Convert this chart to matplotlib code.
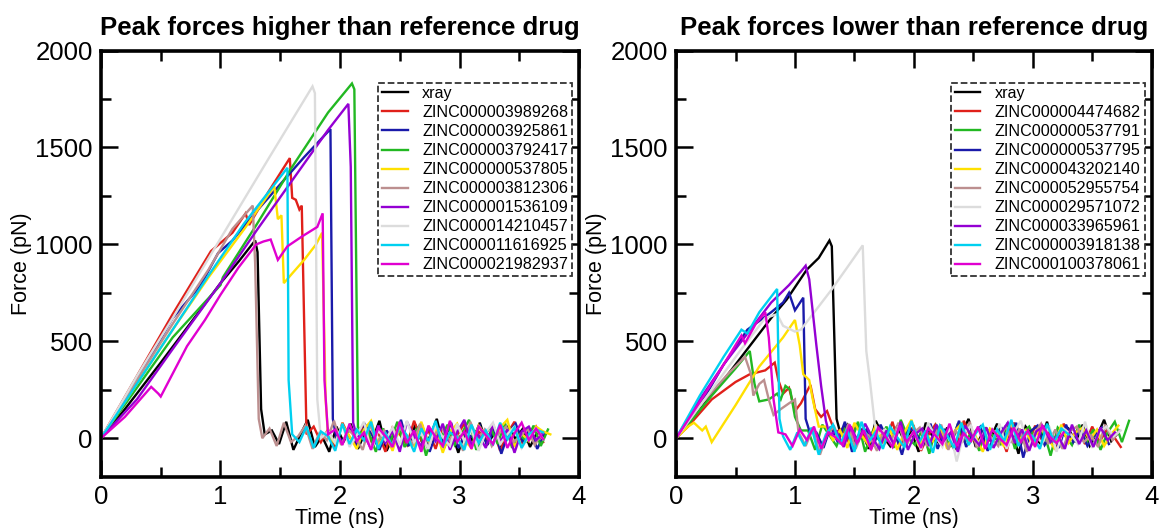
import matplotlib

matplotlib.use("Agg")

import matplotlib.pyplot as plt
from matplotlib.ticker import MultipleLocator

plt.rcParams["font.family"] = ["Liberation Sans", "DejaVu Sans"]

# sampling step (ns) used for the noisy tail after rupture
STEP = 0.06

# ---------------- left panel: peak forces higher than reference ----------------
hi_labels = ["xray", "ZINC000003989268", "ZINC000003925861", "ZINC000003792417",
             "ZINC000000537805", "ZINC000003812306", "ZINC000001536109",
             "ZINC000014210457", "ZINC000011616925", "ZINC000021982937"]
hi_colors = ["#000000", "#e0201a", "#1a1aaa", "#22b822", "#ffe000",
             "#bc8f8f", "#9400d3", "#dcdcdc", "#00d0f0", "#e000d0"]

hi_xray_t = [0, 0.2, 0.5, 0.83, 1.0, 1.15, 1.29, 1.31, 1.34, 1.37]
hi_xray_f = [0, 150, 390, 660, 800, 910, 1020, 960, 150, 20]
hi_xray_noise = [40, -30, 85, -60, 20, 95, -45, 10, -70, 60, -20, 75, -55, 30, -10, 90, -65, 15, 55, -40,
                 70, -25, 5, 100, -50, 35, -75, 45, -15, 80, -35, 25, -60, 65, -5, 50, -45, 30, 10]

hi_red_t = [0, 0.3, 0.6, 0.92, 1.1, 1.21, 1.24, 1.4, 1.58, 1.6, 1.63, 1.66, 1.68, 1.7, 1.72]
hi_red_f = [0, 320, 640, 965, 1060, 1160, 1100, 1270, 1445, 1240, 1230, 1180, 1200, 600, 20]
hi_red_noise = [60, -20, 45, -50, 80, 5, -40, 70, -15, 30, -70, 55, 20, -35, 90, -10, 40, -55, 65, -25,
                15, 75, -45, 35, -5, 50, -65, 25, 85, -30, 10, 60, -20]

hi_blue_t = [0, 0.3, 0.6, 0.83, 0.98, 1.1, 1.3, 1.5, 1.7, 1.92, 1.94, 1.97]
hi_blue_f = [0, 300, 620, 785, 955, 1020, 1170, 1310, 1450, 1595, 100, 0]
hi_blue_noise = [-10, 55, -45, 70, 15, -60, 40, -25, 95, -40, 20, 60, -70, 35, -15, 80, -50, 25, 5, 65,
                 -35, 45, -80, 30, 75, -20, 50, -55, 20]

hi_green_t = [0, 0.3, 0.6, 1.0, 1.02, 1.3, 1.6, 1.9, 2.1, 2.12, 2.15, 2.18]
hi_green_f = [0, 260, 520, 790, 830, 1100, 1400, 1680, 1830, 1800, 60, 20]
hi_green_noise = [30, -70, 50, -20, 85, -45, 10, 60, -90, 40, -5, 70, -35, 25, 95, -60, 15, 55, -30, 80,
                  -50, 20, -15, 65, -40, 45]

hi_yellow_t = [0, 0.3, 0.6, 0.9, 1.2, 1.45, 1.48, 1.51, 1.53, 1.6, 1.7, 1.8, 1.85, 1.88, 1.9]
hi_yellow_f = [0, 280, 560, 830, 1080, 1300, 1130, 1150, 800, 850, 920, 1000, 1060, 200, 10]
hi_yellow_noise = [-25, 70, 10, -55, 45, 90, -35, 20, -65, 60, 5, -40, 85, -20, 50, -75, 30, 75, -10, -50,
                   65, 15, -30, 55, 95, -45, 25, -15, 60, 35, 20]

hi_brown_t = [0, 0.3, 0.6, 0.9, 1.1, 1.27, 1.29, 1.32, 1.35]
hi_brown_f = [0, 300, 590, 870, 1080, 1200, 900, 100, 0]
hi_brown_noise = [50, -40, 80, -20, 10, 65, -55, 30, -10, 90, -35, 45, 5, -60, 70, -25, 40, -45, 60, 15,
                  -30, 75, -50, 20, 55, -15, 35, -65, 85, -5, 45, -40, 25, 60, -20, 10, 50, -35, 30]

hi_violet_t = [0, 0.3, 0.6, 1.0, 1.3, 1.6, 1.9, 2.07, 2.09, 2.11, 2.14]
hi_violet_f = [0, 200, 460, 800, 1070, 1330, 1590, 1725, 1400, 80, 10]
hi_violet_noise = [20, -55, 65, -25, 40, -70, 85, 10, -40, 55, -15, 75, -60, 30, 95, -35, 15, -50, 70, -20,
                   45, -75, 35, 60, -10, 25]

hi_grey_t = [0, 0.3, 0.6, 1.0, 1.4, 1.77, 1.79, 1.81, 1.84]
hi_grey_f = [0, 320, 620, 1030, 1440, 1815, 1780, 200, 0]
hi_grey_noise = [35, -25, 70, -45, 15, 85, -60, 40, -10, 55, -35, 90, -20, 25, -55, 65, 5, -40, 75, -15,
                 45, -65, 30, 80, -30, 20, 60, -50, 10, 50, -5]

hi_cyan_t = [0, 0.3, 0.6, 0.9, 1.2, 1.56, 1.57, 1.6]
hi_cyan_f = [0, 280, 560, 840, 1110, 1395, 300, 20]
hi_cyan_noise = [-20, 60, -50, 35, 10, -65, 75, -30, 45, -10, 85, -55, 25, -40, 65, 15, -70, 50, -15, 90,
                 -45, 30, 5, -60, 70, -25, 40, -35, 80, -5, 55, -50, 20, 45, 30]

hi_magenta_t = [0, 0.2, 0.42, 0.48, 0.5, 0.72, 0.87, 1.0, 1.15, 1.3, 1.36, 1.42, 1.48, 1.56, 1.68, 1.81,
                1.855, 1.87, 1.9]
hi_magenta_f = [0, 110, 265, 230, 215, 475, 610, 740, 880, 1000, 1015, 1025, 920, 990, 1040, 1090,
                1160, 300, 20]
hi_magenta_noise = [45, -35, 75, -15, 30, -60, 55, 10, -45, 85, -25, 40, -70, 65, 5, -40, 90, -20, 35, -55,
                    60, 15, -30, 70, -50, 25, 80, -10, 50, -5]

# ---------------- right panel: peak forces lower than reference ----------------
lo_labels = ["xray", "ZINC000004474682", "ZINC000000537791", "ZINC000000537795",
             "ZINC000043202140", "ZINC000052955754", "ZINC000029571072",
             "ZINC000033965961", "ZINC000003918138", "ZINC000100378061"]
lo_colors = ["#000000", "#e0201a", "#22b822", "#1a1aaa", "#ffe000",
             "#bc8f8f", "#dcdcdc", "#9400d3", "#00d0f0", "#e000d0"]

lo_xray_t = [0, 0.15, 0.4, 0.6, 0.8, 0.93, 1.1, 1.2, 1.29, 1.31, 1.35, 1.38]
lo_xray_f = [0, 110, 300, 460, 620, 715, 870, 930, 1020, 990, 100, 30]
lo_xray_noise = [70, -20, 40, -55, 90, 10, -40, 65, -15, 35, -70, 80, 5, -30, 55, -60, 20, 100, -45, 30,
                 -10, 75, -35, 45, -80, 60, 15, -25, 85, -50, 25, 50, -20, 70, -40, 10, 95, -15, 30]

lo_red_t = [0, 0.1, 0.3, 0.5, 0.62, 0.75, 0.83, 0.86, 0.9, 0.95, 1.0, 1.05, 1.1, 1.13, 1.17, 1.22, 1.27,
            1.3, 1.34]
lo_red_f = [0, 60, 200, 290, 330, 350, 390, 300, 230, 260, 140, 180, 240, 275, 150, 110, 140, 90, 30]
lo_red_noise = [50, -30, 75, 10, -55, 40, -20, 85, -45, 25, 60, -65, 15, 70, -25, 45, -50, 90, 5, -35,
                55, -15, 35, -70, 80, 20, -40, 65, -10, 30, -60, 75, 0, 45, -30, 60, -20, 40, 10, -45]

lo_green_t = [0, 0.1, 0.3, 0.5, 0.62, 0.66, 0.7, 0.78, 0.85, 0.88, 0.92, 0.96, 1.0, 1.05]
lo_green_f = [0, 70, 220, 360, 450, 280, 190, 200, 230, 200, 270, 250, 110, 40]
lo_green_noise = [40, -60, 70, 15, -40, 55, -25, 85, -70, 30, -10, 60, -50, 95, 5, -35, 45, -80, 65, 20,
                  -45, 75, -20, 35, -65, 50, 10, -30, 80, -55, 25, 60, -15, 40, -90, 55, 15, -35, 70, -25,
                  45, -60, 30, 85, -20, 90]

lo_blue_t = [0, 0.2, 0.4, 0.6, 0.8, 0.9, 0.95, 1.0, 1.07, 1.09, 1.12]
lo_blue_f = [0, 170, 380, 560, 650, 700, 750, 660, 725, 100, 40]
lo_blue_noise = [30, -50, 60, -20, 85, -70, 15, 45, -40, 70, -10, 35, -85, 55, 20, -30, 75, -55, 40, -15,
                 90, -45, 25, 60, -65, 10, 50, -25, 80, -100, 35, 65, -35, 20, -50, 70, -20, 45, -40, 15,
                 55, -30]

lo_yellow_t = [0, 0.1, 0.15, 0.22, 0.25, 0.3, 0.5, 0.7, 0.9, 1.0, 1.04, 1.07, 1.12, 1.15, 1.2]
lo_yellow_f = [0, 60, 80, 40, 60, -20, 170, 370, 520, 610, 480, 330, 300, 200, 60]
lo_yellow_noise = [60, -10, 40, -50, 80, 15, -35, 70, -25, 45, -60, 30, 95, -40, 20, -15, 65, -55, 35, 75,
                   -30, 10, -70, 50, 25, -45, 85, -20, 40, -35, 60, 5, -50, 70, -25, 30, 55, -10, 45, -40,
                   20, 65]

lo_brown_t = [0, 0.2, 0.45, 0.58, 0.63, 0.65, 0.7, 0.74, 0.78, 0.82, 0.88, 0.95, 1.0, 1.03]
lo_brown_f = [0, 170, 340, 420, 330, 220, 280, 300, 200, 120, 150, 180, 200, 30]
lo_brown_noise = [-40, 50, -85, 20, 60, -30, 75, -55, 35, 10, -65, 45, -20, 80, -45, 25, 55, -35, 15, 70,
                  -60, 40, -15, 85, -50, 30, 5, -40, 65, -25, 50, -70, 20, 75, -30, 45, -55, 35, 60, -20,
                  15, -45, 70, -10, 40]

lo_grey_t = [0, 0.3, 0.55, 0.75, 0.85, 0.9, 1.0, 1.05, 1.15, 1.3, 1.45, 1.57, 1.6, 1.63, 1.67, 1.7]
lo_grey_f = [0, 250, 460, 620, 640, 580, 550, 560, 640, 760, 890, 995, 450, 300, 80, 20]
lo_grey_noise = [45, -30, 70, -15, 35, -60, 80, 10, -45, 55, -120, 25, 65, -35, 40, -20, 75, -55, 30, 90,
                 -40, 15, -25, 60, -70, 50, 20, -30, 85, -50, 35, 60, 10, 40]

lo_violet_t = [0, 0.2, 0.4, 0.6, 0.8, 0.95, 1.05, 1.09, 1.12, 1.18, 1.22, 1.26, 1.29]
lo_violet_f = [0, 200, 380, 540, 700, 790, 860, 890, 820, 480, 270, 90, 20]
lo_violet_noise = [35, -45, 60, -20, 75, 5, -55, 40, -30, 85, -60, 20, 50, -40, 70, -15, 30, -70, 65, 10,
                   -35, 55, -50, 25, 80, -25, 45, -65, 35, 60, -20, 15, -55, 70, -30, 40, -45, 55, -10, 30]

lo_cyan_t = [0, 0.2, 0.4, 0.55, 0.6, 0.7, 0.85, 0.87, 0.9]
lo_cyan_f = [0, 220, 420, 560, 540, 650, 770, 100, 10]
lo_cyan_noise = [-60, 30, -40, 55, -85, 20, 70, -30, 45, -70, 85, -20, 35, -55, 60, 5, -45, 90, -25, 40,
                 -75, 65, 15, -50, 80, -35, 25, 70, -60, 45, -15, 95, -40, 30, 10, -55, 75, -20, 50, 20]

lo_magenta_t = [0, 0.15, 0.35, 0.55, 0.58, 0.67, 0.75, 0.78, 0.82, 0.86]
lo_magenta_f = [0, 140, 330, 530, 490, 590, 650, 520, 200, 30]
lo_magenta_noise = [20, -40, 45, -10, 60, -55, 30, 5, -35, 70, -25, 40, -60, 55, 10, -45, 65, -20, 35, -50,
                    50, 15, -30, 75, -40, 25, -15, 60, -55, 45, 0, -35, 55, -20, 40, -45, 65, 10, -25, 30]

HI_CURVES = [
    (hi_xray_t, hi_xray_f, hi_xray_noise),
    (hi_red_t, hi_red_f, hi_red_noise),
    (hi_blue_t, hi_blue_f, hi_blue_noise),
    (hi_green_t, hi_green_f, hi_green_noise),
    (hi_yellow_t, hi_yellow_f, hi_yellow_noise),
    (hi_brown_t, hi_brown_f, hi_brown_noise),
    (hi_violet_t, hi_violet_f, hi_violet_noise),
    (hi_grey_t, hi_grey_f, hi_grey_noise),
    (hi_cyan_t, hi_cyan_f, hi_cyan_noise),
    (hi_magenta_t, hi_magenta_f, hi_magenta_noise),
]
LO_CURVES = [
    (lo_xray_t, lo_xray_f, lo_xray_noise),
    (lo_red_t, lo_red_f, lo_red_noise),
    (lo_green_t, lo_green_f, lo_green_noise),
    (lo_blue_t, lo_blue_f, lo_blue_noise),
    (lo_yellow_t, lo_yellow_f, lo_yellow_noise),
    (lo_brown_t, lo_brown_f, lo_brown_noise),
    (lo_grey_t, lo_grey_f, lo_grey_noise),
    (lo_violet_t, lo_violet_f, lo_violet_noise),
    (lo_cyan_t, lo_cyan_f, lo_cyan_noise),
    (lo_magenta_t, lo_magenta_f, lo_magenta_noise),
]


def build_trace(ramp_t, ramp_f, noise):
    """Join the loading ramp with the post-rupture tail sampled every STEP ns."""
    tail_t = [ramp_t[-1] + STEP * (i + 1) for i in range(len(noise))]
    return ramp_t + tail_t, ramp_f + noise


def draw_panel(ax, curves, labels, colors, title):
    for (rt, rf, noise), label, color in zip(curves, labels, colors):
        t, f = build_trace(rt, rf, noise)
        ax.plot(t, f, color=color, lw=1.7, label=label, solid_joinstyle="miter")

    ax.set_xlim(0, 4)
    ax.set_ylim(-200, 2000)
    ax.xaxis.set_major_locator(MultipleLocator(1))
    ax.xaxis.set_minor_locator(MultipleLocator(0.5))
    ax.yaxis.set_major_locator(MultipleLocator(500))
    ax.yaxis.set_minor_locator(MultipleLocator(250))
    ax.tick_params(which="both", direction="in", top=True, right=True, width=1.8, labelsize=18.5)
    ax.tick_params(which="major", length=12, pad=6)
    ax.tick_params(which="minor", length=7)
    for spine in ax.spines.values():
        spine.set_linewidth(2.6)

    ax.set_xlabel("Time (ns)", fontsize=15.5, labelpad=-1)
    ax.set_ylabel("Force (pN)", fontsize=15.5, labelpad=2)
    ax.set_title(title, fontsize=18.5, fontweight="bold", pad=11)

    leg = ax.legend(loc="upper right", bbox_to_anchor=(0.985, 0.925), borderaxespad=0,
                    fontsize=11.6, handlelength=1.6, handletextpad=0.9, labelspacing=0.25,
                    fancybox=False, framealpha=1, borderpad=0.22)
    frame = leg.get_frame()
    frame.set_edgecolor("#333333")
    frame.set_linestyle("--")
    frame.set_linewidth(1.3)


def main():
    fig = plt.figure(figsize=(11.62, 5.28), dpi=100)
    ax_hi = fig.add_axes([0.0869, 0.0966, 0.4114, 0.8077])
    ax_lo = fig.add_axes([0.5818, 0.0966, 0.4093, 0.8077])

    draw_panel(ax_hi, HI_CURVES, hi_labels, hi_colors, "Peak forces higher than reference drug")
    draw_panel(ax_lo, LO_CURVES, lo_labels, lo_colors, "Peak forces lower than reference drug")

    fig.savefig("out.png", dpi=100)
    plt.close(fig)


if __name__ == "__main__":
    main()
